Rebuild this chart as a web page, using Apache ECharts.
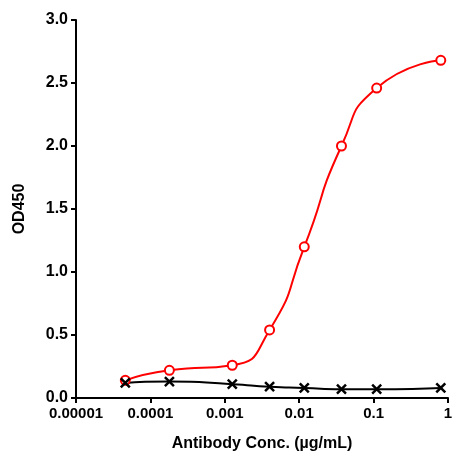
<!DOCTYPE html><html><head><meta charset="utf-8"><script src="https://cdn.jsdelivr.net/npm/echarts@6/dist/echarts.min.js"></script></head><body style="margin:0"><div id="c" style="width:472px;height:467px"></div><script>
var conc=[0.000046,0.00018,0.00126,0.004,0.0117,0.037,0.11,0.8];
var red=[0.14,0.22,0.26,0.54,1.2,2.0,2.46,2.68];
var black=[0.12,0.13,0.11,0.09,0.08,0.07,0.07,0.08];
var yTicks=['0.0','0.5','1.0','1.5','2.0','2.5','3.0'];
function pts(v){return conc.map(function(c,i){return [c,v[i]];});}
var f='Liberation Sans';
var ch=echarts.init(document.getElementById('c'));
ch.setOption({animation:false,
grid:{left:76,right:24,top:20,bottom:69},
xAxis:{type:'log',min:0.00001,max:1,logBase:10,
 name:'Antibody Conc. (µg/mL)',nameLocation:'middle',nameGap:38,
 nameTextStyle:{fontFamily:f,fontWeight:'bold',fontSize:16,color:'#000'},
 axisLine:{onZero:false,lineStyle:{color:'#000',width:2}},axisTick:{lineStyle:{width:2},length:5},
 splitLine:{show:false},minorTick:{show:false},
 axisLabel:{fontFamily:f,fontWeight:'bold',fontSize:15,color:'#000',formatter:function(v){var e=Math.round(Math.log10(v));return e>=0?'1':'0.'+'0'.repeat(-e-1)+'1';}}},
yAxis:{type:'value',min:0,max:3,interval:0.5,
 name:'OD450',nameLocation:'middle',nameGap:48,
 nameTextStyle:{fontFamily:f,fontWeight:'bold',fontSize:16,color:'#000'},
 axisLine:{show:true,lineStyle:{color:'#000',width:2}},axisTick:{show:true,lineStyle:{width:2},length:5},
 splitLine:{show:false},
 axisLabel:{fontFamily:f,fontWeight:'bold',fontSize:16,color:'#000',formatter:function(v){return yTicks[Math.round(v*2)];}}},
series:[
{type:'line',data:pts(red),smooth:0.6,symbol:'circle',symbolSize:9,showAllSymbol:true,
 itemStyle:{color:'#fff',borderColor:'#f00',borderWidth:2},lineStyle:{color:'#f00',width:2}},
{type:'line',data:pts(black),smooth:0.6,symbol:'path://M0,0L10,10M10,0L0,10',symbolSize:9,
 itemStyle:{color:'#000',borderColor:'#000',borderWidth:2.5},lineStyle:{color:'#000',width:2}}
]});
</script></body></html>
